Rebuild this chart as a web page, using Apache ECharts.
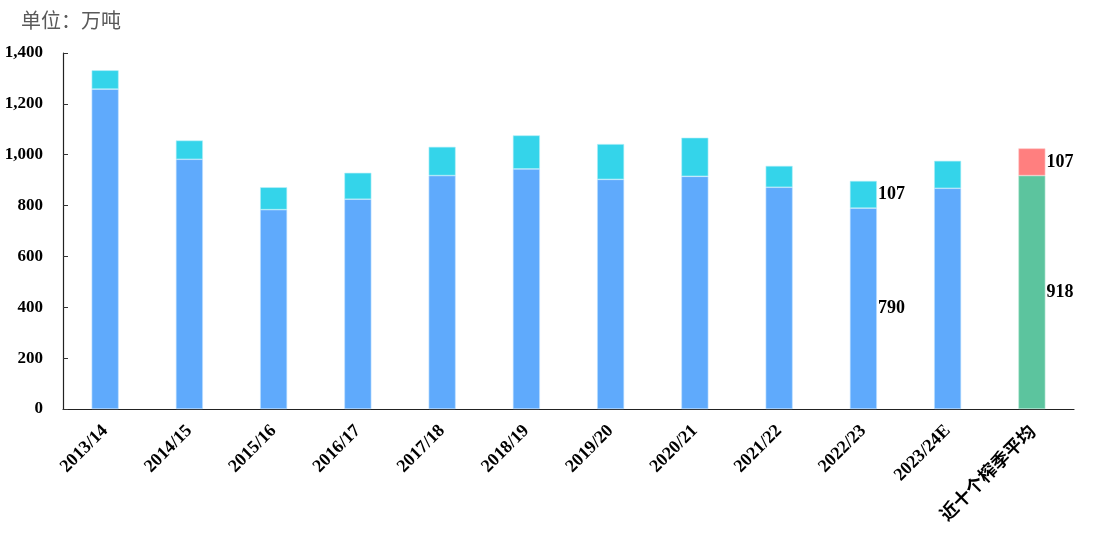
<!DOCTYPE html>
<html>
<head>
<meta charset="utf-8">
<script src="https://cdn.jsdelivr.net/npm/echarts@6/dist/echarts.min.js"></script>
<style>html,body{margin:0;padding:0;background:#fff}#c{width:1093px;height:536px}</style>
</head>
<body>
<div id="c"></div>
<script>
var categories = ['2013/14','2014/15','2015/16','2016/17','2017/18','2018/19','2019/20','2020/21','2021/22','2022/23','2023/24E','近十个榨季平均'];
var baseValues = [1258, 982, 784, 825, 918, 944, 903, 915, 872, 790, 868, '-'];
var topValues  = [74, 74, 88, 104, 113, 132, 139, 152, 84, 107, 108, '-'];
var avgBase = ['-','-','-','-','-','-','-','-','-','-','-', 918];
var avgTop  = ['-','-','-','-','-','-','-','-','-','-','-', 107];
var labelIndex = 9;
var yTicks = [0, 200, 400, 600, 800, 1000, 1200, 1400];

var serif = '"Liberation Serif","Times New Roman","Noto Sans CJK SC",serif';
var lbl = {show:true, position:'right', distance:1, color:'#000', fontFamily:serif, fontWeight:'bold', fontSize:18};
function withLabel(arr, idx){
  return arr.map(function(v,i){ return i===idx ? {value:v, label:lbl} : v; });
}
var chart = echarts.init(document.getElementById('c'));
chart.setOption({
  animation:false,
  title:{text:'单位：万吨', left:16, top:5, textStyle:{color:'#595959', fontSize:20, fontWeight:'normal', fontFamily:'"Noto Sans CJK SC",sans-serif'}},
  grid:{left:63, right:19, top:53, bottom:127},
  xAxis:{type:'category', data:categories,
    axisLine:{lineStyle:{color:'#222', width:1.2}},
    axisTick:{inside:true, length:5, lineStyle:{color:'#333'}},
    axisLabel:{rotate:45, margin:19, color:'#000', fontFamily:serif, fontWeight:'bold', fontSize:18, interval:0,
      formatter:function(v){ return /[\u4e00-\u9fff]/.test(v) ? '{cn|'+v+'}' : v; },
      rich:{cn:{fontFamily:'"Noto Sans CJK SC",sans-serif', fontWeight:'bold', fontSize:18, color:'#000'}}}
  },
  yAxis:{type:'value', min:yTicks[0], max:yTicks[yTicks.length-1], interval:200,
    axisLine:{show:true, lineStyle:{color:'#222', width:1.2}},
    axisTick:{show:true, inside:true, length:5, lineStyle:{color:'#333'}},
    splitLine:{show:false},
    axisLabel:{margin:20, color:'#000', fontFamily:serif, fontWeight:'bold', fontSize:17,
      formatter:function(v){ return v.toLocaleString('en-US'); }}
  },
  series:[
    {type:'bar', stack:'a', barWidth:27, data:withLabel(baseValues, labelIndex),
      itemStyle:{color:'#5FAAFC', borderColor:'#BFE0FF', borderWidth:0.6}, label:{show:false}},
    {type:'bar', stack:'a', barWidth:27, data:withLabel(topValues, labelIndex),
      itemStyle:{color:'#34D4EA', borderColor:'#B6F0F8', borderWidth:0.6}, label:{show:false}},
    {type:'bar', stack:'a', barWidth:27, data:avgBase,
      itemStyle:{color:'#5CC49E', borderColor:'#BDE9D8', borderWidth:0.6}, label:lbl},
    {type:'bar', stack:'a', barWidth:27, data:avgTop,
      itemStyle:{color:'#FF7F7F', borderColor:'#FFCFCF', borderWidth:0.6}, label:lbl}
  ]
});
</script>
</body>
</html>
